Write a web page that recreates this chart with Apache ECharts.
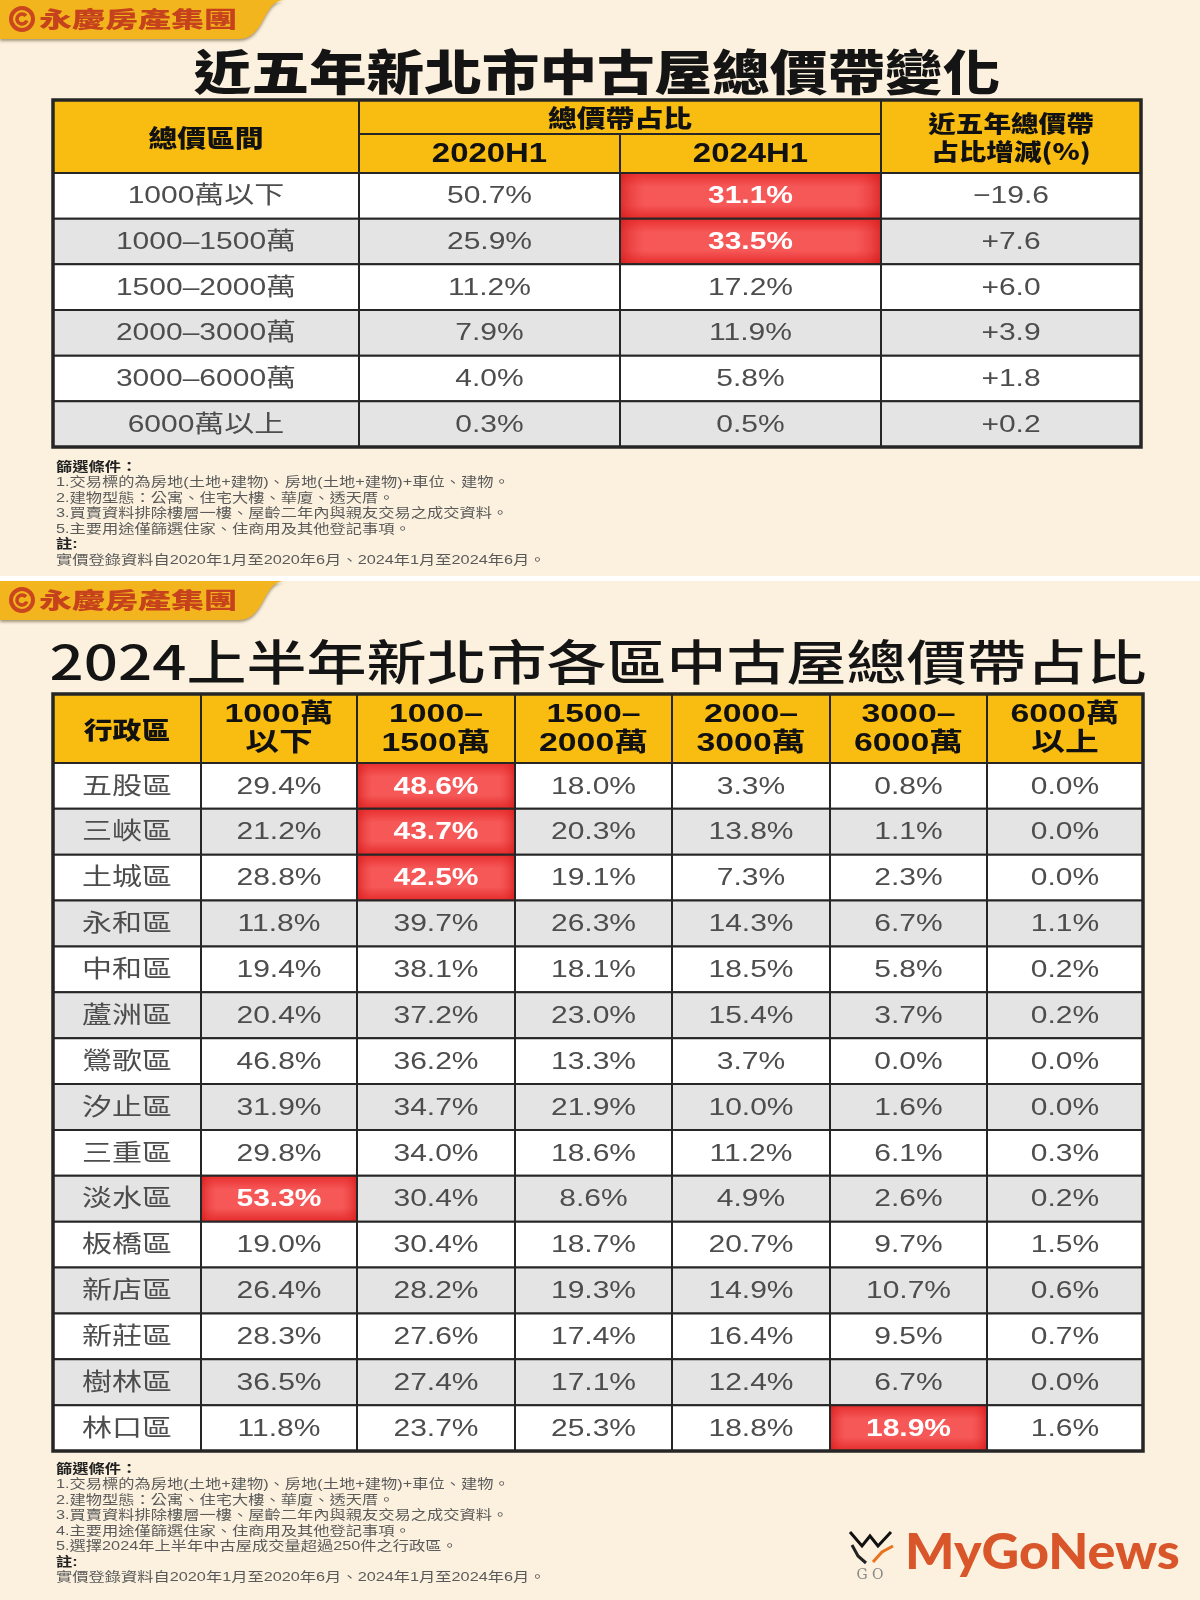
<!DOCTYPE html>
<html><head><meta charset="utf-8">
<script src="https://cdn.jsdelivr.net/npm/echarts@6/dist/echarts.min.js"></script>
<style>html,body{margin:0;padding:0;background:#FBF1DE}#c{width:1200px;height:1600px}</style>
</head><body><div id="c"></div>
<script>
// ================= DATA =================
const t1Title = '近五年新北市中古屋總價帶變化';
const t1Headers = ['總價區間', '總價帶占比', '2020H1', '2024H1', '近五年總價帶\n占比增減(%)'];
const t1Bands = ['1000萬以下', '1000–1500萬', '1500–2000萬', '2000–3000萬', '3000–6000萬', '6000萬以上'];
const t1Share2020 = [50.7, 25.9, 11.2, 7.9, 4.0, 0.3];
const t1Share2024 = [31.1, 33.5, 17.2, 11.9, 5.8, 0.5];
const t1Change = [-19.6, 7.6, 6.0, 3.9, 1.8, 0.2];
const t1Highlights = [[0, 2], [1, 2]]; // [row, column]

const t2Title = '2024上半年新北市各區中古屋總價帶占比';
const t2Headers = ['行政區', '1000萬\n以下', '1000–\n1500萬', '1500–\n2000萬', '2000–\n3000萬', '3000–\n6000萬', '6000萬\n以上'];
const t2Districts = ['五股區', '三峽區', '土城區', '永和區', '中和區', '蘆洲區', '鶯歌區', '汐止區', '三重區', '淡水區', '板橋區', '新店區', '新莊區', '樹林區', '林口區'];
const t2Under1000 = [29.4, 21.2, 28.8, 11.8, 19.4, 20.4, 46.8, 31.9, 29.8, 53.3, 19.0, 26.4, 28.3, 36.5, 11.8];
const t2From1000To1500 = [48.6, 43.7, 42.5, 39.7, 38.1, 37.2, 36.2, 34.7, 34.0, 30.4, 30.4, 28.2, 27.6, 27.4, 23.7];
const t2From1500To2000 = [18.0, 20.3, 19.1, 26.3, 18.1, 23.0, 13.3, 21.9, 18.6, 8.6, 18.7, 19.3, 17.4, 17.1, 25.3];
const t2From2000To3000 = [3.3, 13.8, 7.3, 14.3, 18.5, 15.4, 3.7, 10.0, 11.2, 4.9, 20.7, 14.9, 16.4, 12.4, 18.8];
const t2From3000To6000 = [0.8, 1.1, 2.3, 6.7, 5.8, 3.7, 0.0, 1.6, 6.1, 2.6, 9.7, 10.7, 9.5, 6.7, 18.9];
const t2Over6000 = [0.0, 0.0, 0.0, 1.1, 0.2, 0.2, 0.0, 0.0, 0.3, 0.2, 1.5, 0.6, 0.7, 0.0, 1.6];
const t2Highlights = [[0, 2], [1, 2], [2, 2], [9, 1], [14, 5]]; // [row, column]

const notes1 = [
  ['篩選條件：', true],
  ['1.交易標的為房地(土地+建物)、房地(土地+建物)+車位、建物。', false],
  ['2.建物型態：公寓、住宅大樓、華廈、透天厝。', false],
  ['3.買賣資料排除樓層一樓、屋齡二年內與親友交易之成交資料。', false],
  ['5.主要用途僅篩選住家、住商用及其他登記事項。', false],
  ['註:', true],
  ['實價登錄資料自2020年1月至2020年6月、2024年1月至2024年6月。', false]
];
const notes2 = [
  ['篩選條件：', true],
  ['1.交易標的為房地(土地+建物)、房地(土地+建物)+車位、建物。', false],
  ['2.建物型態：公寓、住宅大樓、華廈、透天厝。', false],
  ['3.買賣資料排除樓層一樓、屋齡二年內與親友交易之成交資料。', false],
  ['4.主要用途僅篩選住家、住商用及其他登記事項。', false],
  ['5.選擇2024年上半年中古屋成交量超過250件之行政區。', false],
  ['註:', true],
  ['實價登錄資料自2020年1月至2020年6月、2024年1月至2024年6月。', false]
];
const brandName = '永慶房產集團';
const siteName = 'MyGoNews';

// ================= LAYOUT / STYLE =================
const FONT = '"Liberation Sans","Noto Sans CJK TC",sans-serif';
const CJK = '"Noto Sans CJK TC",sans-serif';
const SX = 1.25;
const BG = '#FBF1DE';
const YELLOW = '#F9BD12';
const GRAY = '#E4E4E4';
const LINE = '#262626';

const L1 = { left: 53, top: 100, cols: [306, 261, 261, 260], head: [34, 39], row: 45.67 };
const L2 = { left: 53, top: 694, cols: [148, 156, 158, 157, 158, 157, 156], head: [69], row: 45.87 };

function edges(arr) { const e = [0]; arr.forEach(v => e.push(e[e.length - 1] + v)); return e; }
const pct = v => v.toFixed(1) + '%';
const sgn = v => (v < 0 ? '−' : '+') + Math.abs(v).toFixed(1);

// ---- table 1 cells ----
const cx1 = edges(L1.cols);
const hy1 = edges(L1.head);
const H1 = hy1[2] + L1.row * t1Bands.length;
const cells1 = [];
cells1.push({ x0: cx1[0], x1: cx1[1], y0: 0, y1: hy1[2], text: t1Headers[0], kind: 'head' });
cells1.push({ x0: cx1[1], x1: cx1[3], y0: 0, y1: hy1[1], text: t1Headers[1], kind: 'head' });
cells1.push({ x0: cx1[1], x1: cx1[2], y0: hy1[1], y1: hy1[2], text: t1Headers[2], kind: 'headBig' });
cells1.push({ x0: cx1[2], x1: cx1[3], y0: hy1[1], y1: hy1[2], text: t1Headers[3], kind: 'headBig' });
cells1.push({ x0: cx1[3], x1: cx1[4], y0: 0, y1: hy1[2], text: t1Headers[4], kind: 'head2' });
t1Bands.forEach((b, r) => {
  const vals = [b, pct(t1Share2020[r]), pct(t1Share2024[r]), sgn(t1Change[r])];
  vals.forEach((t, c) => {
    const hot = t1Highlights.some(h => h[0] === r && h[1] === c);
    cells1.push({ x0: cx1[c], x1: cx1[c + 1], y0: hy1[2] + r * L1.row, y1: hy1[2] + (r + 1) * L1.row,
      text: t, kind: hot ? 'hot' : (r % 2 ? 'gray' : 'white') });
  });
});
cells1.push({ x0: 0, x1: cx1[4], y0: 0, y1: H1, text: '', kind: 'frame' });

// ---- table 2 cells ----
const cx2 = edges(L2.cols);
const hy2 = L2.head[0];
const H2 = hy2 + L2.row * t2Districts.length;
const t2Cols = [t2Under1000, t2From1000To1500, t2From1500To2000, t2From2000To3000, t2From3000To6000, t2Over6000];
const cells2 = [];
t2Headers.forEach((h, c) => cells2.push({ x0: cx2[c], x1: cx2[c + 1], y0: 0, y1: hy2, text: h, kind: c === 0 ? 'head' : 'head3' }));
t2Districts.forEach((d, r) => {
  const vals = [d].concat(t2Cols.map(col => pct(col[r])));
  vals.forEach((t, c) => {
    const hot = t2Highlights.some(h => h[0] === r && h[1] === c);
    cells2.push({ x0: cx2[c], x1: cx2[c + 1], y0: hy2 + r * L2.row, y1: hy2 + (r + 1) * L2.row,
      text: t, kind: hot ? 'hot' : (r % 2 ? 'gray' : 'white') });
  });
});
cells2.push({ x0: 0, x1: cx2[7], y0: 0, y1: H2, text: '', kind: 'frame' });

const STYLE = {
  head:    { fill: YELLOW, color: '#111', font: '900 24px ' + CJK, sx: 1.2, lh: 28 },
  head2:   { fill: YELLOW, color: '#111', font: '900 23px ' + CJK, sx: 1.2, lh: 28 },
  headBig: { fill: YELLOW, color: '#111', font: 'bold 27px ' + FONT, sx: 1.22, lh: 30 },
  head3:   { fill: YELLOW, color: '#111', font: 'bold 26px ' + FONT, sx: 1.3, lh: 29 },
  white:   { fill: '#FFFFFF', color: '#4D4D4D', font: '24px ' + FONT, sx: SX, lh: 28 },
  gray:    { fill: GRAY, color: '#4D4D4D', font: '24px ' + FONT, sx: SX, lh: 28 },
  hot:     { fill: '#EE3A3A', color: '#FFFFFF', font: 'bold 24px ' + FONT, sx: SX, lh: 28 }
};

function lin(x2, y2, stops) {
  return { type: 'linear', x: 0, y: 0, x2: x2, y2: y2, colorStops: stops };
}

function makeRender(cells) {
  return function (params, api) {
    const c = cells[params.dataIndex];
    const p0 = api.coord([api.value(0), api.value(1)]);
    const p1 = api.coord([api.value(2), api.value(3)]);
    const x = p0[0], y = Math.min(p0[1], p1[1]);
    const w = p1[0] - p0[0], h = Math.abs(p1[1] - p0[1]);
    if (c.kind === 'frame') {
      return { type: 'rect', shape: { x, y, width: w, height: h }, style: { fill: 'none', stroke: LINE, lineWidth: 3.5 } };
    }
    const st = STYLE[c.kind];
    const ch = [];
    if (c.kind === 'hot') {
      ch.push({ type: 'rect', shape: { x, y, width: w, height: h },
        style: { fill: lin(0, 1, [
          { offset: 0, color: '#E82E2E' }, { offset: 0.3, color: '#F65858' },
          { offset: 0.7, color: '#F65858' }, { offset: 1, color: '#E42A2A' }]) } });
      ch.push({ type: 'rect', shape: { x, y, width: w, height: h },
        style: { fill: lin(1, 0, [
          { offset: 0, color: 'rgba(210,25,25,0.7)' }, { offset: 0.1, color: 'rgba(240,60,60,0)' },
          { offset: 0.9, color: 'rgba(240,60,60,0)' }, { offset: 1, color: 'rgba(210,25,25,0.7)' }]) } });
      ch.push({ type: 'rect', shape: { x, y, width: w, height: h }, style: { fill: 'none', stroke: LINE, lineWidth: 2 } });
    } else {
      ch.push({ type: 'rect', shape: { x, y, width: w, height: h }, style: { fill: st.fill, stroke: LINE, lineWidth: 2 } });
    }
    ch.push({ type: 'text', x: x + w / 2, y: y + h / 2 + 1, scaleX: st.sx,
      style: { text: c.text, fill: st.color, font: st.font, align: 'center', verticalAlign: 'middle', lineHeight: st.lh } });
    return { type: 'group', children: ch };
  };
}

// ---- decorations (graphic) ----
const graphics = [];
graphics.push({ type: 'rect', shape: { x: 0, y: 576, width: 1200, height: 5 }, style: { fill: '#FFFFFF' } });
function tabPoints(y0) {
  const pts = [[0, y0], [285, y0]];
  const P = [[285, 0], [262, 0], [266, 39], [238, 39]];
  for (let i = 1; i <= 20; i++) {
    const t = i / 20, u = 1 - t;
    const bx = u * u * u * P[0][0] + 3 * u * u * t * P[1][0] + 3 * u * t * t * P[2][0] + t * t * t * P[3][0];
    const by = u * u * u * P[0][1] + 3 * u * u * t * P[1][1] + 3 * u * t * t * P[2][1] + t * t * t * P[3][1];
    pts.push([bx, y0 + by]);
  }
  pts.push([0, y0 + 39]);
  return pts;
}
function brandTab(y0) {
  graphics.push({ type: 'polygon', shape: { points: tabPoints(y0) },
    style: { fill: '#F3B51D', shadowBlur: 3, shadowColor: 'rgba(60,40,0,0.45)', shadowOffsetY: 2 } });
  graphics.push({ type: 'circle', shape: { cx: 22, cy: y0 + 19, r: 11 }, style: { fill: 'none', stroke: '#C9461F', lineWidth: 4 } });
  graphics.push({ type: 'arc', shape: { cx: 22, cy: y0 + 19, r: 5, startAngle: 0.3, endAngle: 5.6 }, style: { fill: 'none', stroke: '#C9461F', lineWidth: 3.5 } });
  graphics.push({ type: 'text', x: 39, y: y0 + 19, scaleX: 1.5,
    style: { text: brandName, font: '900 22px ' + CJK, fill: '#C5421D', align: 'left', verticalAlign: 'middle' } });
}
brandTab(0);
brandTab(581);
graphics.push({ type: 'text', x: 597, y: 72, scaleX: 1.2,
  style: { text: t1Title, font: '900 48px ' + CJK, fill: '#141414', align: 'center', verticalAlign: 'middle' } });
graphics.push({ type: 'text', x: 598, y: 662, scaleX: 1.25,
  style: { text: t2Title, font: '500 48px ' + CJK, fill: '#141414', align: 'center', verticalAlign: 'middle' } });
function notes(list, y0) {
  list.forEach((n, i) => {
    graphics.push({ type: 'text', x: 56, y: y0 + i * 15.5, scaleX: 1.25,
      style: { text: n[0], font: (n[1] ? 'bold ' : '') + '13px ' + FONT, fill: n[1] ? '#222' : '#5a5a5a', align: 'left', verticalAlign: 'middle' } });
  });
}
notes(notes1, 467);
notes(notes2, 1469);
// MyGoNews logo
graphics.push({ type: 'polyline', shape: { points: [[850, 1532], [862, 1546], [870, 1536], [878, 1546], [891, 1532]] }, style: { stroke: '#111', lineWidth: 3, fill: 'none' } });
graphics.push({ type: 'polyline', shape: { points: [[852, 1545], [858, 1556], [866, 1563]] }, style: { stroke: '#222', lineWidth: 3, fill: 'none' } });
graphics.push({ type: 'polyline', shape: { points: [[873, 1562], [882, 1552], [893, 1546]] }, style: { stroke: '#E8731E', lineWidth: 3, fill: 'none' } });
graphics.push({ type: 'text', x: 870, y: 1575, style: { text: 'G O', font: '14px "DejaVu Serif"', fill: '#888', align: 'center', verticalAlign: 'middle' } });
graphics.push({ type: 'text', x: 905, y: 1553, scaleX: 1.04,
  style: { text: siteName, font: '900 50px Lato, "DejaVu Sans"', align: 'left', verticalAlign: 'middle', fill: '#D9552A' } });

// ================= CHART =================
const chart = echarts.init(document.getElementById('c'), null, { renderer: 'canvas' });
chart.setOption({
  backgroundColor: BG,
  animation: false,
  grid: [
    { left: L1.left, top: L1.top, width: cx1[4], height: H1 },
    { left: L2.left, top: L2.top, width: cx2[7], height: H2 }
  ],
  xAxis: [
    { gridIndex: 0, type: 'value', min: 0, max: cx1[4], show: false },
    { gridIndex: 1, type: 'value', min: 0, max: cx2[7], show: false }
  ],
  yAxis: [
    { gridIndex: 0, type: 'value', min: 0, max: H1, inverse: true, show: false },
    { gridIndex: 1, type: 'value', min: 0, max: H2, inverse: true, show: false }
  ],
  graphic: graphics,
  series: [
    { type: 'custom', xAxisIndex: 0, yAxisIndex: 0, clip: false, silent: true,
      encode: { x: [0, 2], y: [1, 3] }, renderItem: makeRender(cells1),
      data: cells1.map(c => [c.x0, c.y0, c.x1, c.y1]) },
    { type: 'custom', xAxisIndex: 1, yAxisIndex: 1, clip: false, silent: true,
      encode: { x: [0, 2], y: [1, 3] }, renderItem: makeRender(cells2),
      data: cells2.map(c => [c.x0, c.y0, c.x1, c.y1]) }
  ]
});
</script>
</body></html>
